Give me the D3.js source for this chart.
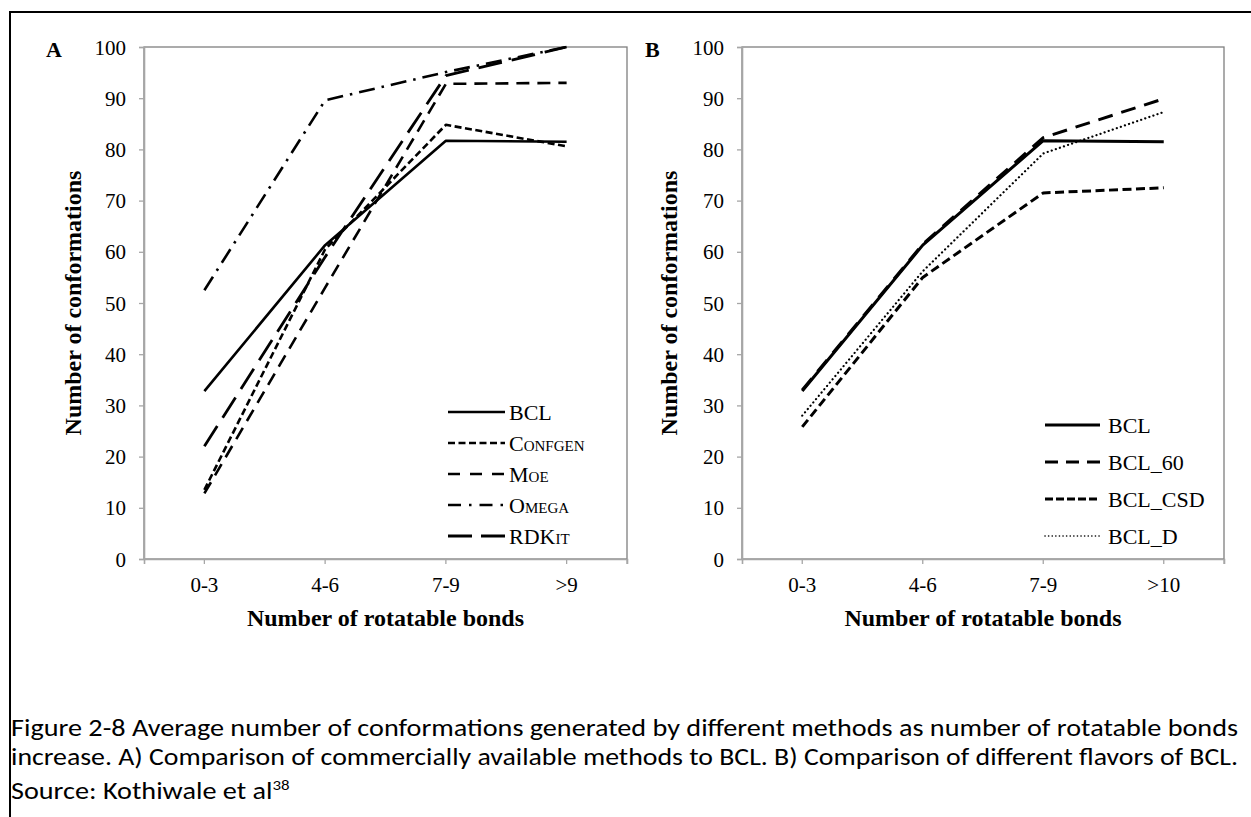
<!DOCTYPE html>
<html>
<head>
<meta charset="utf-8">
<script src="https://cdn.jsdelivr.net/npm/d3@7"></script>
<style>
  body { margin: 0; background: #fff; }
  #wrap { position: relative; width: 1251px; height: 817px; overflow: hidden; }
  svg { position: absolute; left: 0; top: 0; }
  .caption { position: absolute; left: 11px; top: 714px; width: 1227px;
    font-family: Carlito, Calibri, "Open Sans", sans-serif; font-size: 25px; line-height: 28.5px; color: #000; }
  .caption div { white-space: nowrap; height: 28.5px; }
  .caption span.ln { display: inline-block; transform-origin: 0 50%; }
</style>
</head>
<body>
<div id="wrap">
<svg width="1251" height="817"></svg>
</div>
<script>
// panel A data
const catsA = ["0-3", "4-6", "7-9", ">9"];
const bclA = [32.8, 61.3, 81.7, 81.5];
const confgenA = [13.5, 60.5, 84.8, 80.6];
const moeA = [12.8, 53, 92.8, 93];
const omegaA = [52.5, 89.6, 95.1, 100];
const rdkitA = [22, 59, 94.4, 100];

// panel B data
const catsB = ["0-3", "4-6", "7-9", ">10"];
const bclB = [32.8, 61.3, 81.7, 81.5];
const bcl60B = [33, 61.5, 82.3, 89.9];
const bclCsdB = [25.8, 55, 71.5, 72.5];
const bclDB = [28, 56.2, 79.2, 87.3];

const yTicks = [0, 10, 20, 30, 40, 50, 60, 70, 80, 90, 100];

const svg = d3.select("svg");
const serif = "'Liberation Serif', 'Times New Roman', serif";

// outer frame (top and left edges)
svg.append("line").attr("x1", 10).attr("x2", 1251).attr("y1", 12).attr("y2", 12)
    .attr("stroke", "#000").attr("stroke-width", 2);
svg.append("line").attr("x1", 10).attr("x2", 10).attr("y1", 11).attr("y2", 817)
    .attr("stroke", "#000").attr("stroke-width", 2);

function panel(opt) {
  var x = d3.scaleBand().domain(opt.cats).range([opt.left, opt.right]),
      y = d3.scaleLinear().domain([0, 100]).range([559, 47]);
  var g = svg.append("g");

  // plot frame
  g.append("rect")
      .attr("x", opt.left).attr("y", 47)
      .attr("width", opt.right - opt.left).attr("height", 559 - 47)
      .attr("fill", "none").attr("stroke", "#7f7f7f").attr("stroke-width", 1.3);

  var yAxis = d3.axisLeft(y).tickValues(yTicks).tickSize(5).tickPadding(13);
  var gy = g.append("g")
      .attr("transform", "translate(" + opt.left + ",0)")
      .call(yAxis);

  var xAxis = d3.axisBottom(x).tickSize(5).tickPadding(13);
  var gx = g.append("g")
      .attr("transform", "translate(0,559)")
      .call(xAxis);
  // extra tick at the right end of the axis
  gx.append("line").attr("x1", opt.right).attr("x2", opt.right).attr("y1", 0).attr("y2", 5);

  [gx, gy].forEach(function (a) {
    a.select(".domain").attr("stroke", "#a6a6a6").attr("stroke-width", 1.6);
    a.selectAll("line").attr("stroke", "#a6a6a6").attr("stroke-width", 1.3);
    a.selectAll("text").attr("font-family", serif).attr("font-size", 21).attr("fill", "#000");
  });
  gy.selectAll("text").attr("dy", "0.34em");

  // panel letter
  g.append("text").attr("x", opt.letterX).attr("y", 57)
      .attr("font-family", serif).attr("font-weight", "bold").attr("font-size", 22)
      .text(opt.letter);

  // axis titles
  g.append("text")
      .attr("transform", "translate(" + opt.titleX + ",303) rotate(-90)")
      .attr("text-anchor", "middle").attr("dy", "0.35em")
      .attr("font-family", serif).attr("font-weight", "bold").attr("font-size", 24)
      .text("Number of conformations");
  g.append("text")
      .attr("x", (opt.left + opt.right) / 2).attr("y", 626)
      .attr("text-anchor", "middle")
      .attr("font-family", serif).attr("font-weight", "bold").attr("font-size", 24)
      .text("Number of rotatable bonds");

  var line = d3.line()
      .x(function (d, i) { return x(opt.cats[i]) + x.bandwidth() / 2; })
      .y(function (d) { return y(d); });

  opt.series.forEach(function (s, i) {
    g.append("path")
        .attr("d", line(s.values))
        .attr("fill", "none")
        .attr("stroke", "#000")
        .attr("stroke-width", s.width)
        .attr("stroke-linecap", s.cap || "butt")
        .attr("stroke-linejoin", "round")
        .attr("stroke-dasharray", s.dash);

    var ly = opt.legY + i * opt.legStep;
    g.append("line")
        .attr("x1", opt.legX1).attr("x2", opt.legX2)
        .attr("y1", ly).attr("y2", ly)
        .attr("stroke", "#000")
        .attr("stroke-width", s.legWidth || s.width)
        .attr("stroke-linecap", s.cap || "butt")
        .attr("stroke-dasharray", s.legDash || s.dash);
    g.append("text")
        .attr("x", opt.legText).attr("y", ly).attr("dy", "0.35em")
        .attr("font-family", serif).attr("font-size", 22)
        .style("font-variant", s.smallCaps ? "small-caps" : "normal")
        .text(s.name);
  });
}

panel({
  cats: catsA, left: 144, right: 627, letter: "A", letterX: 46, titleX: 73,
  legX1: 448, legX2: 505, legText: 509, legY: 412, legStep: 31,
  series: [
    { name: "BCL", values: bclA, width: 2.6, dash: null },
    { name: "Confgen", values: confgenA, width: 2.6, dash: "7,3.5", smallCaps: true },
    { name: "Moe", values: moeA, width: 2.6, dash: "13,8", legDash: "12,10", smallCaps: true },
    { name: "Omega", values: omegaA, width: 2.6, dash: "16,7,2.5,7", legDash: "13,8,2.5,8", smallCaps: true },
    { name: "RDKit", values: rdkitA, width: 2.8, dash: "24,10", legDash: "24,9", smallCaps: true }
  ]
});

panel({
  cats: catsB, left: 742, right: 1224, letter: "B", letterX: 645, titleX: 669,
  legX1: 1045, legX2: 1100, legText: 1108, legY: 425, legStep: 37,
  series: [
    { name: "BCL", values: bclB, width: 3, dash: null },
    { name: "BCL_60", values: bcl60B, width: 3, dash: "15,9", legDash: "13,8" },
    { name: "BCL_CSD", values: bclCsdB, width: 3, dash: "9,4.5", legDash: "8,3" },
    { name: "BCL_D", values: bclDB, width: 2.2, dash: "0.1,4.2", cap: "round", legWidth: 1.6, legDash: "0.1,3.5" }
  ]
});

// caption: the first two lines are fitted to the full text width
const captionLines = [
  "Figure 2-8 Average number of conformations generated by different methods as number of rotatable bonds",
  "increase. A) Comparison of commercially available methods to BCL. B) Comparison of different flavors of BCL."
];
var cap = d3.select("#wrap").append("div").attr("class", "caption");
var spans = captionLines.map(function (t) {
  return cap.append("div").append("span").attr("class", "ln").text(t);
});
var last = cap.append("div").append("span").attr("class", "ln");
last.append("span").text("Source: Kothiwale et al");
last.append("sup").style("font-size", "15px").style("vertical-align", "9px").text("38");

var k0 = 1227 / spans[0].node().getBoundingClientRect().width;
spans.forEach(function (s) {
  var k = 1227 / s.node().getBoundingClientRect().width;
  s.style("transform", "scaleX(" + k + ")");
});
last.style("transform", "scaleX(" + k0 + ")");
</script>
</body>
</html>
